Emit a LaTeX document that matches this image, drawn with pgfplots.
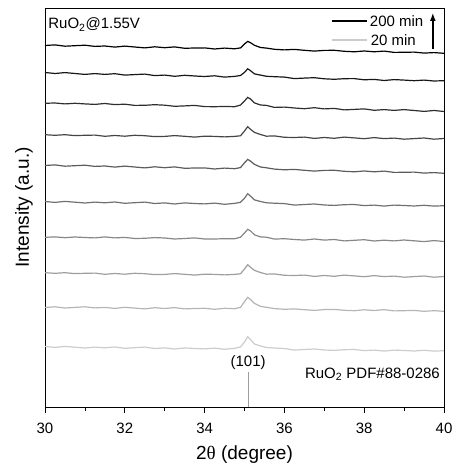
\documentclass[border=0pt]{standalone}
\usepackage{pgfplots}
\pgfplotsset{compat=1.18}
\usepackage{pgfplotstable}
\usetikzlibrary{arrows.meta}
\usepackage{fontspec}
\setmainfont{Liberation Sans}
\newfontfamily\greekserif{Liberation Serif}

\definecolor{g1}{gray}{0.80}
\definecolor{g2}{gray}{0.71}
\definecolor{g3}{gray}{0.62}
\definecolor{g4}{gray}{0.53}
\definecolor{g5}{gray}{0.44}
\definecolor{g6}{gray}{0.36}
\definecolor{g7}{gray}{0.27}
\definecolor{g8}{gray}{0.18}
\definecolor{g9}{gray}{0.09}
\definecolor{g10}{gray}{0.0}
\definecolor{refgray}{gray}{0.62}

\pgfplotstableread{
x      c1    c2     c3     c4     c5     c6     c7     c8     c9     c10
30.00  60.5  99.5   134.3  169.7  205.5  241.5  272.3  303.7  334.5  361.5
30.25  59.6  100.2  133.7  170.1  204.6  242.1  271.7  304.0  333.5  362.1
30.50  60.6  99.0   134.3  169.3  205.6  240.8  272.3  303.1  334.4  360.8
30.75  59.8  99.6   133.4  170.0  204.8  241.3  271.4  303.7  333.5  361.3
31.00  59.0  100.2  133.7  169.5  204.0  241.8  271.7  303.1  332.6  361.8
31.25  59.9  99.1   133.9  169.1  204.9  240.6  271.9  302.6  333.4  360.6
31.50  59.2  99.6   132.7  170.1  204.2  241.0  270.7  303.5  332.6  361.0
31.75  60.0  98.6   133.5  169.1  205.0  239.9  271.5  302.4  333.3  359.9
32.00  58.7  99.7   132.8  169.6  203.7  240.9  270.8  302.8  331.9  360.9
32.25  59.3  98.9   133.7  168.5  204.3  240.0  271.7  301.6  332.4  360.0
32.50  59.9  98.1   133.3  168.7  204.9  239.1  271.3  301.7  332.9  359.1
32.75  58.5  99.3   132.4  169.4  203.5  240.2  270.4  302.3  331.4  360.2
33.00  59.1  98.5   132.6  169.0  204.1  239.3  270.6  301.8  331.9  359.3
33.25  58.0  99.4   133.4  168.0  203.0  240.1  271.4  300.7  330.7  360.1
33.50  59.1  98.1   132.7  168.5  204.1  238.7  270.7  301.1  331.7  358.7
33.75  58.5  98.5   131.9  169.1  203.5  239.0  269.9  301.6  331.0  359.0
34.00  58.1  98.7   132.8  168.0  203.1  239.1  270.8  300.4  330.5  359.1
34.25  58.9  97.7   132.6  168.0  203.9  238.0  270.6  300.3  331.2  358.0
34.50  57.7  98.7   132.1  168.3  202.7  238.9  270.1  300.5  329.9  358.9
34.75  58.7  98.3   132.6  168.2  203.6  238.3  270.6  300.3  330.6  358.2
34.90  60.0  99.6   133.2  169.8  204.7  239.4  271.2  301.9  331.5  359.1
35.00  65.0  105.4  138.0  174.0  208.8  244.2  276.0  306.0  334.6  363.0
35.08  70.3  109.7  142.3  177.7  213.3  247.6  280.3  309.6  338.2  365.6
35.15  67.5  107.5  139.7  176.1  210.9  245.9  277.7  308.1  336.3  364.3
35.25  63.0  103.6  136.6  172.2  207.1  242.6  274.6  304.1  333.1  361.7
35.40  61.0  100.6  134.5  170.1  205.5  240.0  272.5  302.0  331.9  359.5
35.55  59.5  99.7   132.8  169.8  204.2  239.2  270.8  301.6  330.7  358.9
35.75  59.0  98.4   133.1  167.9  203.8  237.9  271.1  299.6  330.3  357.7
36.00  58.5  97.7   131.7  168.3  203.4  237.2  269.7  299.9  329.9  357.1
36.25  56.9  98.1   131.5  167.5  201.9  237.6  269.5  299.0  328.4  357.6
36.50  57.5  97.3   131.9  166.9  202.5  236.7  269.9  298.3  328.9  356.7
36.75  58.0  96.6   130.6  168.0  203.0  235.9  268.6  299.3  329.3  355.9
37.00  57.0  97.4   131.5  166.9  202.0  236.6  269.5  298.1  328.2  356.6
37.25  56.6  97.6   130.7  167.5  201.6  236.7  268.7  298.6  327.7  356.7
37.50  57.3  96.7   131.9  166.1  202.3  235.7  269.9  297.1  328.3  355.7
37.75  57.5  96.3   131.1  166.7  202.5  235.2  269.1  297.6  328.4  355.2
38.00  56.4  97.2   130.3  167.3  201.4  236.0  268.3  298.1  327.2  356.0
38.25  56.9  96.5   131.4  166.0  201.9  235.2  269.4  296.7  327.6  355.2
38.50  55.9  97.3   130.4  166.8  200.9  235.9  268.4  297.4  326.5  355.9
38.75  56.9  96.1   130.9  166.1  201.9  234.6  268.9  296.6  327.4  354.6
39.00  56.5  96.3   129.8  167.0  201.5  234.7  267.8  297.4  326.9  354.7
39.25  56.0  96.6   130.4  166.2  201.0  234.9  268.4  296.5  326.3  354.9
39.50  56.7  95.7   131.0  165.4  201.7  233.9  269.0  295.6  326.9  353.9
39.75  55.9  96.3   129.8  166.4  200.9  234.4  267.8  296.5  326.0  354.4
40.00  56.3  95.7   130.5  165.5  201.3  233.7  268.5  295.5  326.3  353.7
}\xrd

\begin{document}
\begin{tikzpicture}
\begin{axis}[
  name=ax,
  scale only axis,
  width=399pt, height=399pt,
  xmin=30, xmax=40, ymin=0, ymax=399,
  xtick={30,32,...,40},
  minor x tick num=1,
  ytick=\empty,
  xtick pos=bottom,
  tick align=outside,
  major tick length=6pt,
  minor tick length=3.5pt,
  every tick/.style={black, line width=0.8pt},
  axis line style={line width=0.8pt},
  /pgf/number format/assume math mode=true,
  xticklabel style={font=\fontsize{15}{17}\selectfont},
  xticklabel shift=6pt,
  xlabel={2{\greekserif θ} (degree)},
  ylabel={Intensity (a.u.)},
  label style={font=\fontsize{19}{22}\selectfont},
  xlabel style={at={(axis description cs:0.5,-0.12)}, anchor=center},
  ylabel style={at={(axis description cs:-0.053,0.5)}, anchor=center},
  clip=false,
  every axis plot/.append style={line width=1.2pt},
]
\addplot[g1]  table[x=x,y=c1]  {\xrd};
\addplot[g2]  table[x=x,y=c2]  {\xrd};
\addplot[g3]  table[x=x,y=c3]  {\xrd};
\addplot[g4]  table[x=x,y=c4]  {\xrd};
\addplot[g5]  table[x=x,y=c5]  {\xrd};
\addplot[g6]  table[x=x,y=c6]  {\xrd};
\addplot[g7]  table[x=x,y=c7]  {\xrd};
\addplot[g8]  table[x=x,y=c8]  {\xrd};
\addplot[g9]  table[x=x,y=c9]  {\xrd};
\addplot[g10] table[x=x,y=c10] {\xrd};
% reference stick
\addplot[refgray, line width=1.8pt] coordinates {(35.1,0) (35.1,35)};

\node[anchor=base west, font=\fontsize{15}{17}\selectfont, inner sep=0pt]
  at (axis cs:30.08,378) {RuO\textsubscript{2}@1.55V};
\node[anchor=center, font=\fontsize{15}{17}\selectfont, inner sep=0pt]
  at (axis cs:35.09,44) {(101)};
\node[anchor=base east, font=\fontsize{15}{17}\selectfont, inner sep=0pt]
  at (axis cs:39.9,29) {RuO\textsubscript{2} PDF\#88-0286};

% legend
\draw[black, line width=1.3pt] (axis cs:37.19,386) -- (axis cs:38.08,386);
\draw[g1, line width=1.3pt] (axis cs:37.19,367) -- (axis cs:38.08,367);
\node[anchor=west, font=\fontsize{15}{17}\selectfont, inner sep=0pt]
  at (axis cs:38.14,386) {200 min};
\node[anchor=west, font=\fontsize{15}{17}\selectfont, inner sep=0pt]
  at (axis cs:38.16,367) {20 min};
\draw[black, line width=1.4pt, -{Latex[length=8pt,width=6pt]}] (axis cs:39.72,358) -- (axis cs:39.72,394);
\end{axis}
\path ([xshift=-45pt,yshift=-63pt]ax.south west) rectangle ([xshift=13pt,yshift=8pt]ax.north east);
\end{tikzpicture}
\end{document}
